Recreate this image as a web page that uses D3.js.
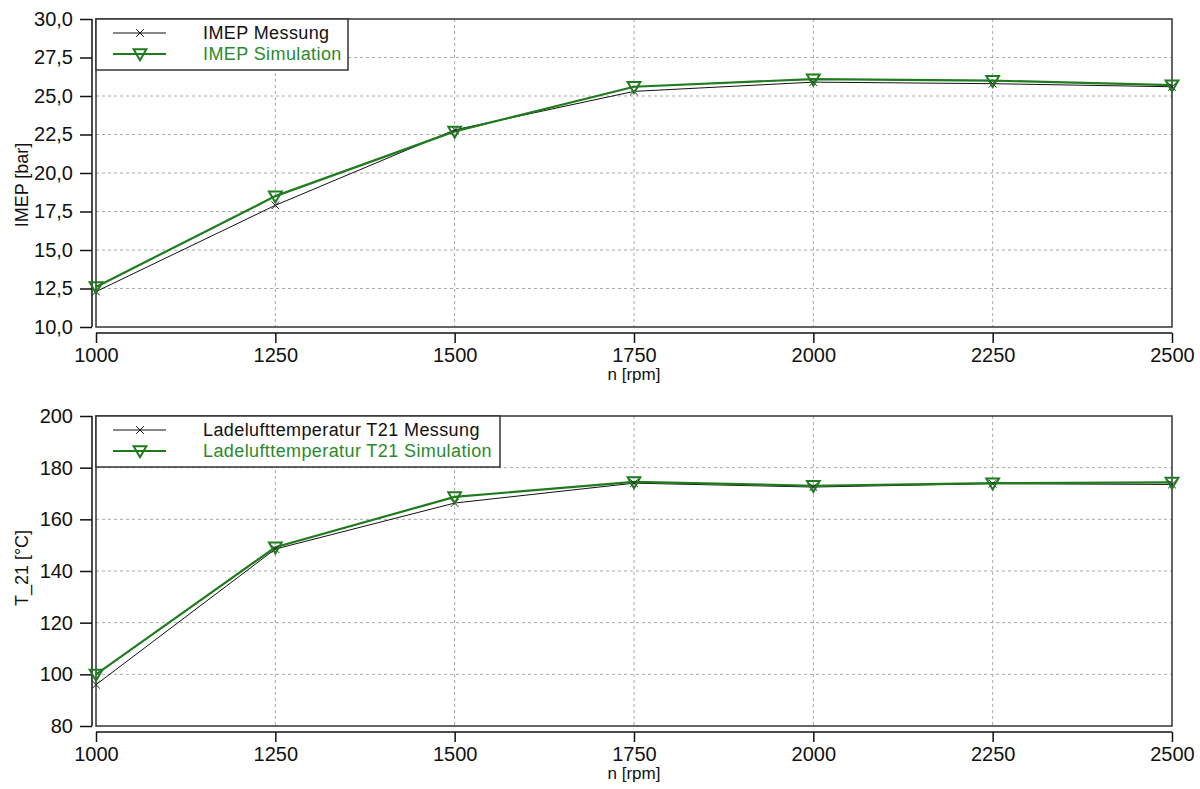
<!DOCTYPE html>
<html>
<head>
<meta charset="utf-8">
<script src="https://cdn.jsdelivr.net/npm/d3@7"></script>
<style>
  body { margin: 0; background: #fff; }
  svg { font-family: "Liberation Sans", Arial, sans-serif; }
</style>
</head>
<body>
<svg id="chart" width="1200" height="789"></svg>
<script>
// engine speeds (x axis)
var rpm = [1000, 1250, 1500, 1750, 2000, 2250, 2500];

// top panel: IMEP [bar]
var imepMessung    = [12.3, 17.9, 22.8, 25.3, 25.9, 25.8, 25.6];
var imepSimulation = [12.6, 18.5, 22.7, 25.6, 26.1, 26.0, 25.7];
var imepTicks = [10, 12.5, 15, 17.5, 20, 22.5, 25, 27.5, 30];

// bottom panel: charge air temperature T21 [°C]
var t21Messung    = [96, 148.5, 166.3, 174.0, 172.5, 173.8, 173.5];
var t21Simulation = [100, 149.2, 168.7, 174.5, 173.0, 174.0, 174.3];
var t21Ticks = [80, 100, 120, 140, 160, 180, 200];

var xTicks = rpm;

var green = '#1e7b1e',
    svg = d3.select('#chart');

function fmtComma(v) { return d3.format('.1f')(v).replace('.', ','); }

function drawPanel(opt) {
  var left = 96, right = 1172;
  var x = d3.scaleLinear().domain([1000, 2500]).range([left, right]);
  var y = d3.scaleLinear().domain(opt.yDomain).range([opt.bottom, opt.top]);
  var g = svg.append('g');

  // grid
  g.selectAll('.hgrid').data(opt.yTicks.slice(1, -1)).enter().append('line')
    .attr('x1', left).attr('x2', right)
    .attr('y1', function(d) { return y(d); }).attr('y2', function(d) { return y(d); })
    .attr('stroke', '#a8a8a8').attr('stroke-dasharray', '3,3');
  g.selectAll('.vgrid').data(xTicks.slice(1, -1)).enter().append('line')
    .attr('y1', opt.top).attr('y2', opt.bottom)
    .attr('x1', function(d) { return x(d); }).attr('x2', function(d) { return x(d); })
    .attr('stroke', '#a8a8a8').attr('stroke-dasharray', '3,3');

  // frame
  g.append('rect')
    .attr('x', left).attr('y', opt.top)
    .attr('width', right - left).attr('height', opt.bottom - opt.top)
    .attr('fill', 'none').attr('stroke', '#333').attr('stroke-width', 1.5);

  // y axis (offset left of frame)
  var yAxis = d3.axisLeft(y).tickValues(opt.yTicks).tickSize(12).tickPadding(7)
    .tickFormat(opt.yFormat);
  var ya = g.append('g').attr('transform', 'translate(' + (left - 4) + ',0)').call(yAxis)
    .attr('font-family', null).attr('font-size', 20);
  ya.select('.domain').attr('d', 'M0,' + opt.top + 'V' + opt.bottom).attr('stroke', '#111').attr('stroke-width', 1.5);
  ya.selectAll('.tick line').attr('stroke', '#111').attr('stroke-width', 1.5);
  ya.selectAll('text').attr('fill', '#111');

  // x axis (offset below frame)
  var xAxis = d3.axisBottom(x).tickValues(xTicks).tickSize(10).tickPadding(5)
    .tickFormat(d3.format('d'));
  var xa = g.append('g').attr('transform', 'translate(0,' + (opt.bottom + 6) + ')').call(xAxis)
    .attr('font-family', null).attr('font-size', 20);
  xa.select('.domain').attr('d', 'M' + left + ',0H' + right).attr('stroke', '#111').attr('stroke-width', 1.5);
  xa.selectAll('.tick line').attr('stroke', '#111').attr('stroke-width', 1.5);
  xa.selectAll('text').attr('fill', '#111');

  g.append('text')
    .attr('x', (left + right) / 2).attr('y', opt.bottom + 53)
    .attr('text-anchor', 'middle').attr('font-size', 17).attr('fill', '#111')
    .text('n [rpm]');

  g.append('text')
    .attr('transform', 'translate(28,' + opt.labelY + ') rotate(-90)')
    .attr('text-anchor', 'middle').attr('font-size', 18).attr('fill', '#111')
    .text(opt.yLabel);

  // series
  var line = d3.line()
    .x(function(d, i) { return x(rpm[i]); })
    .y(function(d) { return y(d); });

  g.append('path').datum(opt.mess).attr('d', line)
    .attr('fill', 'none').attr('stroke', '#111').attr('stroke-width', 1);
  g.append('path').datum(opt.sim).attr('d', line)
    .attr('fill', 'none').attr('stroke', green).attr('stroke-width', 2.2);

  var cross = d3.symbol().type(d3.symbolX).size(40);
  var tri = d3.symbol().type(d3.symbolTriangle).size(70);

  g.selectAll('.mx').data(opt.mess).enter().append('path')
    .attr('d', cross)
    .attr('transform', function(d, i) { return 'translate(' + x(rpm[i]) + ',' + y(d) + ')'; })
    .attr('fill', 'none').attr('stroke', '#222').attr('stroke-width', 1);
  g.selectAll('.sx').data(opt.sim).enter().append('path')
    .attr('d', tri)
    .attr('transform', function(d, i) { return 'translate(' + x(rpm[i]) + ',' + (y(d) - 1) + ') rotate(180)'; })
    .attr('fill', 'none').attr('stroke', green).attr('stroke-width', 2);

  // legend
  var lg = g.append('g');
  lg.append('rect')
    .attr('x', left).attr('y', opt.top)
    .attr('width', opt.legendW).attr('height', 51)
    .attr('fill', '#fff').attr('stroke', '#333').attr('stroke-width', 1.5);

  var rows = [
    { name: opt.names[0], color: '#111', w: 1, sym: cross, rot: 0 },
    { name: opt.names[1], color: green, w: 2.2, sym: tri, rot: 180 }
  ];
  rows.forEach(function(r, i) {
    var ry = opt.top + 14 + i * 21;
    lg.append('line').attr('x1', 113).attr('x2', 166).attr('y1', ry).attr('y2', ry)
      .attr('stroke', r.color).attr('stroke-width', r.w);
    lg.append('path').attr('d', r.sym)
      .attr('transform', 'translate(140,' + (ry - (r.rot ? 1 : 0)) + ') rotate(' + r.rot + ')')
      .attr('fill', 'none').attr('stroke', r.color).attr('stroke-width', r.rot ? 2 : 1);
    lg.append('text').attr('x', 203).attr('y', ry + 6)
      .attr('font-size', 18).attr('letter-spacing', 0.4).attr('fill', i ? '#2a8a2a' : '#111')
      .text(r.name);
  });
}

drawPanel({
  top: 19, bottom: 327,
  yDomain: [10, 30], yTicks: imepTicks, yFormat: fmtComma,
  yLabel: 'IMEP [bar]', labelY: 185,
  mess: imepMessung, sim: imepSimulation,
  names: ['IMEP Messung', 'IMEP Simulation'], legendW: 252
});

drawPanel({
  top: 416, bottom: 726,
  yDomain: [80, 200], yTicks: t21Ticks, yFormat: d3.format('d'),
  yLabel: 'T_21 [°C]', labelY: 568,
  mess: t21Messung, sim: t21Simulation,
  names: ['Ladelufttemperatur T21 Messung', 'Ladelufttemperatur T21 Simulation'], legendW: 404
});
</script>
</body>
</html>
